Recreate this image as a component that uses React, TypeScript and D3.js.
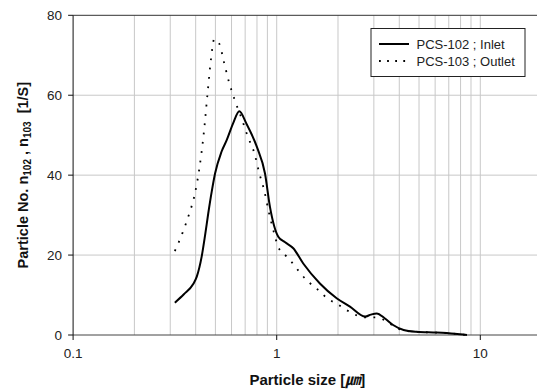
import React from "react";
import * as d3 from "d3";

const inletX = [0.316, 0.35, 0.389, 0.405, 0.428, 0.445, 0.461, 0.48, 0.498, 0.535, 0.568, 0.61, 0.655, 0.71, 0.8, 0.876, 0.927, 1.018, 1.1, 1.206, 1.35, 1.63, 1.97, 2.29, 2.72, 2.9, 3.1, 3.39, 3.73, 4.2, 4.87, 6.1, 7.5, 8.6];
const inletY = [8.1, 10.2, 12.75, 14.6, 19.6, 25, 30.4, 36, 40.4, 45.8, 48.75, 52.9, 56, 52.9, 47, 40.4, 32, 24.6, 23.2, 21.7, 17.9, 12.9, 9.2, 7.1, 4.6, 5.1, 5.4, 4.2, 2.5, 1.25, 0.8, 0.6, 0.3, 0];

const outletX = [0.316, 0.345, 0.371, 0.394, 0.417, 0.439, 0.457, 0.476, 0.493, 0.522, 0.551, 0.58, 0.62, 0.67, 0.72, 0.78, 0.82, 0.87, 0.91, 0.957, 1.018, 1.11, 1.21, 1.31, 1.44, 1.6, 1.78, 1.99, 2.2, 2.45, 2.73, 3.07, 3.41, 3.79, 4.2, 4.87, 6.1, 7.5, 8.6];
const outletY = [21, 25.6, 30.2, 34.75, 41.7, 50.8, 60.2, 69.2, 74, 72.9, 68.25, 63.7, 59, 54.4, 49.75, 45.2, 40.6, 36, 31.25, 26.7, 22, 19.8, 17.7, 15.4, 13.2, 11.25, 9.1, 7.7, 6.25, 5, 4.4, 4.4, 3.6, 2.1, 1.1, 0.8, 0.6, 0.3, 0];

const xTicks = [0.1, 1, 10];
const xGrid = [0.2, 0.3, 0.4, 0.5, 0.6, 0.7, 0.8, 0.9, 1, 2, 3, 4, 5, 6, 7, 8, 9, 10];
const yTicks = [0, 20, 40, 60, 80];
const seriesNames = ["PCS-102 ; Inlet", "PCS-103 ; Outlet"];

const W = 537;
const H = 389;
const left = 73.1;
const top = 15.3;
const bottom = 335;
const right = 541.6;

export default function App() {
  const x = d3.scaleLog().domain([0.1, 20]).range([left, right]);
  const y = d3.scaleLinear().domain([0, 80]).range([bottom, top]);
  const line = d3
    .line<[number, number]>()
    .x((d) => x(d[0]))
    .y((d) => y(d[1]))
    .curve(d3.curveMonotoneX);
  const inlet = inletX.map((v, i) => [v, inletY[i]] as [number, number]);
  const outlet = outletX.map((v, i) => [v, outletY[i]] as [number, number]);
  const font = "'Liberation Sans', Arial, sans-serif";

  return (
    <svg
      width={W}
      height={H}
      style={{ position: "absolute", left: 0, top: 0, background: "#fff" }}
      fontFamily={font}
    >
      {/* grid */}
      {xGrid.map((g) => (
        <line key={"gx" + g} x1={x(g)} x2={x(g)} y1={top} y2={bottom} stroke="#c8c8c8" strokeWidth={1} />
      ))}
      {yTicks.slice(1, -1).map((g) => (
        <line key={"gy" + g} x1={left} x2={right} y1={y(g)} y2={y(g)} stroke="#c8c8c8" strokeWidth={1} />
      ))}
      {/* top border */}
      <line x1={left} x2={right} y1={y(80)} y2={y(80)} stroke="#333" strokeWidth={1} />
      {/* axes */}
      <line x1={left} x2={right} y1={bottom} y2={bottom} stroke="#444" strokeWidth={1} />
      <line x1={left} x2={left} y1={top} y2={bottom} stroke="#111" strokeWidth={1} />
      {yTicks.map((t) => (
        <g key={"yt" + t}>
          <line x1={left - 5} x2={left} y1={y(t)} y2={y(t)} stroke="#111" />
          <text x={left - 11} y={y(t)} dy="0.36em" textAnchor="end" fontSize={13.5} fill="#222">
            {t}
          </text>
        </g>
      ))}
      {xTicks.map((t) => (
        <g key={"xt" + t}>
          <line x1={x(t)} x2={x(t)} y1={bottom} y2={bottom + 5} stroke="#111" />
          <text x={x(t)} y={358} textAnchor="middle" fontSize={13.5} fill="#222">
            {t}
          </text>
        </g>
      ))}
      {/* series */}
      <path d={line(inlet) || ""} fill="none" stroke="#000" strokeWidth={2} />
      <path
        d={line(outlet) || ""}
        fill="none"
        stroke="#000"
        strokeWidth={1.8}
        strokeDasharray="1.8 7.5"
      />
      {/* legend */}
      <rect x={371} y={28.5} width={154} height={48} fill="#fff" stroke="#222" strokeWidth={1} />
      <line x1={379} x2={409} y1={44} y2={44} stroke="#000" strokeWidth={2} />
      <line x1={379} x2={409} y1={61} y2={61} stroke="#000" strokeWidth={1.8} strokeDasharray="1.8 6.3" />
      <text x={416.5} y={44} dy="0.36em" fontSize={13} fill="#222">
        {seriesNames[0]}
      </text>
      <text x={416.5} y={61} dy="0.36em" fontSize={13} fill="#222">
        {seriesNames[1]}
      </text>
      {/* axis titles */}
      <text x={(left + right) / 2} y={385} textAnchor="middle" fontSize={15} fontWeight="bold" fill="#111">
        Particle size [
        <tspan fontFamily="'Noto Sans CJK KR', sans-serif" fontWeight="bold" fontStyle="italic">㎛</tspan>]
      </text>
      <text
        transform={`translate(28, ${(top + bottom) / 2}) rotate(-90)`}
        textAnchor="middle"
        fontSize={14.5}
        fontWeight="bold"
        fill="#111"
      >
        Particle No. n<tspan fontSize={10} dy={3}>102</tspan>
        <tspan dy={-3}> , n</tspan>
        <tspan fontSize={10} dy={3}>103</tspan>
        <tspan dy={-3}>{"\u00a0\u00a0[1/S]"}</tspan>
      </text>
    </svg>
  );
}
